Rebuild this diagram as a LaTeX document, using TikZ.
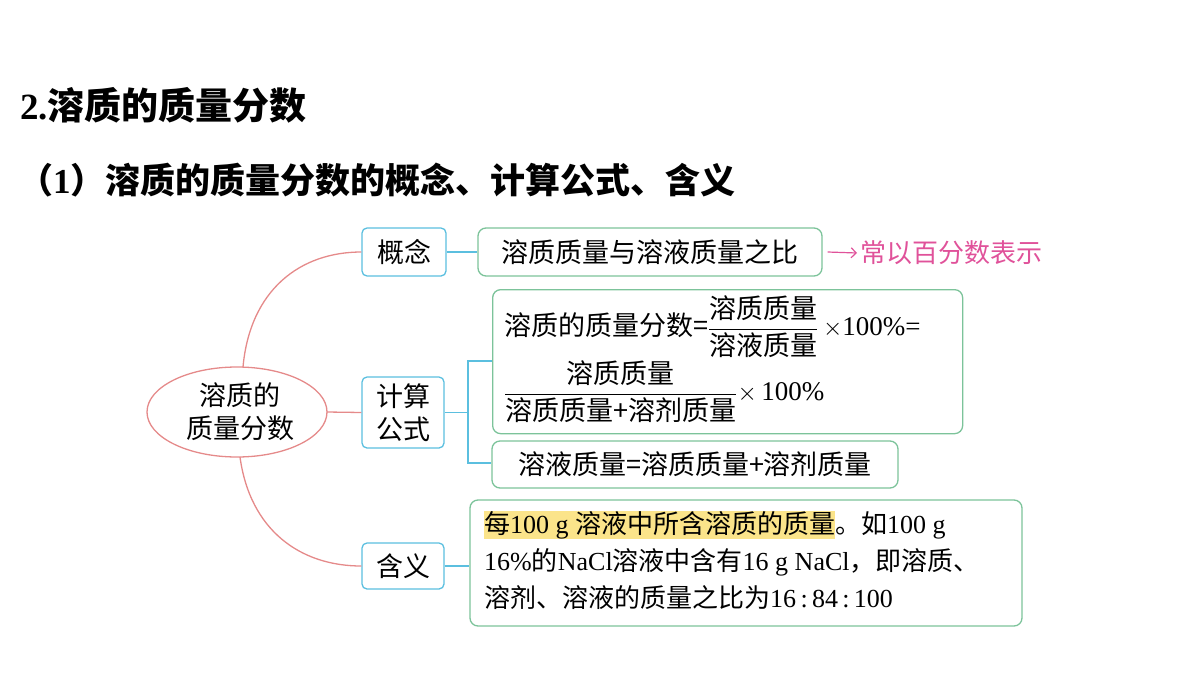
\documentclass[tikz,border=0pt]{standalone}
\usepackage{amsmath}
\usepackage{fontspec}
\setmainfont{Noto Sans CJK SC}
\newfontfamily\lat{Liberation Serif}
\usetikzlibrary{arrows.meta}
\definecolor{rd}{HTML}{E58A8A}
\definecolor{bl}{HTML}{5BBFDF}
\definecolor{gr}{HTML}{7CC39A}
\definecolor{pk}{HTML}{E0529A}
\definecolor{hl}{HTML}{FBE48A}
\tikzset{
 bbox/.style={draw=bl,line width=1.3pt,rounded corners=5pt,inner sep=0pt,align=center,font=\fontsize{27}{32}\selectfont},
 gbox/.style={draw=gr,line width=1.3pt,rounded corners=8pt,inner sep=0pt,font=\fontsize{27}{32}\selectfont},
 rl/.style={draw=rd,line width=1.3pt},
 bln/.style={draw=bl,line width=1.3pt},
}
\begin{document}
\begin{tikzpicture}[x=1pt,y=-1pt]
\useasboundingbox (0,0) rectangle (1200,675);
\node[anchor=west,inner sep=0pt,font=\fontsize{37}{40}\selectfont\bfseries] (t1) at (20,105) {{\lat\bfseries 2.}溶质的质量分数};
\node[anchor=west,inner sep=0pt,font=\fontsize{35}{40}\selectfont\bfseries] (t2) at (18,180) {（{\lat\bfseries 1}）溶质的质量分数的概念、计算公式、含义};
\draw[rd,line width=1.3pt] (237,412) ellipse (90 and 45);
\node[align=center,font=\fontsize{27}{33}\selectfont] (root) at (240,412) {溶质的\\质量分数};
\coordinate (rt) at (243,367); \coordinate (rb) at (240,457); \coordinate (rr) at (327,412);
\node[bbox,minimum width=84pt,minimum height=48pt] (gn) at (404,252) {概念};
\node[bbox,minimum width=82pt,minimum height=71pt,font=\fontsize{27}{33}\selectfont] (js) at (403,412.5) {计算\\公式};
\node[bbox,minimum width=82pt,minimum height=46pt] (hy) at (403,566) {含义};
\node[gbox,minimum width=344pt,minimum height=48pt] (g1) at (650,252) {溶质质量与溶液质量之比};
\node[gbox,minimum width=470pt,minimum height=144pt,anchor=north west] (g2) at (492,289) {};
\node[anchor=west,inner sep=0pt,font=\fontsize{27}{32}\selectfont] (f1) at (504,327) {溶质的质量分数=$\dfrac{\mbox{溶质质量}}{\mbox{溶液质量}}$\lat\,$\times$100\%=};
\node[anchor=west,inner sep=0pt,font=\fontsize{27}{32}\selectfont] (f2) at (504,392) {$\dfrac{\mbox{溶质质量}}{\mbox{溶质质量+溶剂质量}}$\lat$\times$\,100\%};
\node[gbox,minimum width=406pt,minimum height=47pt] (g3) at (695,464.5) {溶液质量=溶质质量+溶剂质量};
\node[gbox,minimum width=552pt,minimum height=126pt] (g4) at (746,563) {};
\node[anchor=north west,align=left,inner sep=0pt,font=\fontsize{26}{37}\selectfont] (g4t) at (484,511) {{\fboxsep=0pt\colorbox{hl}{每{\lat 100 g }溶液中所含溶质的质量}}。如{\lat 100 g}\\{\lat 16\%}的{\lat NaCl}溶液中含有{\lat 16 g NaCl}，即溶质、\\溶剂、溶液的质量之比为{\lat 16\,:\,84\,:\,100}};
\node[anchor=west,inner sep=0pt,text=pk,font=\fontsize{26}{30}\selectfont] (ann) at (860,253) {常以百分数表示};
\draw[pk,line width=1.2pt,-{Straight Barb[length=5pt]}] (g1.east)++(5,0) coordinate (a0) -- ([xshift=-3pt]ann.west);
\draw[rl] (rt) .. controls (250,290) and (300,252) .. (gn.west);
\draw[rl] (rb) .. controls (250,530) and (300,566) .. (hy.west);
\draw[rl] (rr) -- (js.west);
\draw[bln] (gn.east) -- (g1.west);
\draw[bln] (hy.east) -- (hy.east -| g4.west);
\coordinate (bx) at (468,412.5);
\coordinate (bt) at (468,361); \coordinate (bb) at (468,463);
\draw[bln] (js.east) -- (bx);
\draw[bln] (bt -| g2.west) -- (bt) -- (bb) -- (bb -| g3.west);
\end{tikzpicture}
\end{document}
